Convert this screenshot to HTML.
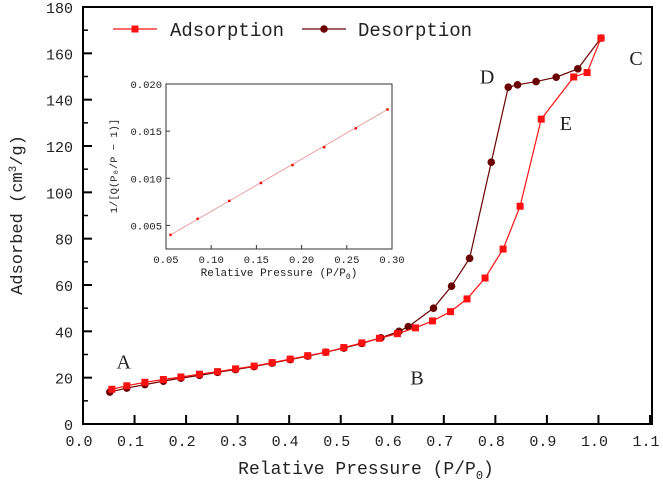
<!DOCTYPE html>
<html><head><meta charset="utf-8"><style>
body{margin:0;background:#fff}
svg text{font-family:"Liberation Mono","Noto Serif CJK SC",monospace;fill:#222}
svg text.serif{font-family:"Liberation Serif",serif}
</style></head><body>
<svg id="c" width="663" height="486" xmlns="http://www.w3.org/2000/svg"></svg>
<script>
const adsX=[0.056,0.085,0.12,0.156,0.19,0.226,0.261,0.296,0.332,0.367,0.402,0.436,0.471,0.506,0.541,0.575,0.61,0.645,0.678,0.713,0.745,0.78,0.815,0.848,0.889,0.952,0.978,1.005];
const adsY=[15,16.5,18,19.2,20.3,21.5,22.6,23.8,25,26.5,28,29.5,31,33,35,37,39,41.5,44.5,48.5,54,63,75.5,94,131.6,149.8,151.7,166.6];
const desX=[0.052,0.085,0.12,0.156,0.19,0.226,0.261,0.296,0.332,0.367,0.402,0.436,0.471,0.506,0.541,0.578,0.613,0.631,0.68,0.715,0.75,0.792,0.825,0.843,0.879,0.918,0.96,1.005];
const desY=[13.8,15.5,17,18.5,19.8,21,22.3,23.5,24.8,26.3,27.8,29.3,31,32.8,34.8,37.2,40,42,50,59.5,71.5,113,145.4,146.4,147.8,149.7,153.3,166.6];
const xTicks=[0,0.1,0.2,0.3,0.4,0.5,0.6,0.7,0.8,0.9,1.0,1.1];
const yTicks=[0,20,40,60,80,100,120,140,160,180];
const insX=[0.055,0.085,0.12,0.155,0.19,0.225,0.26,0.295];
const insY=[0.0040,0.0057,0.0076,0.0095,0.0114,0.0133,0.0153,0.0173];
const insXTicks=[0.05,0.10,0.15,0.20,0.25,0.30];
const insYTicks=[0.005,0.010,0.015,0.020];
const annotations=[["A",0.065,24],["B",0.635,17],["C",1.06,155],["D",0.77,147],["E",0.925,127]];

const S=document.getElementById('c');const NS='http://www.w3.org/2000/svg';
function mk(t,a,name,p){const e=document.createElementNS(NS,t);for(const k in a)e.setAttribute(k,a[k]);


(p||S).appendChild(e);return e;}
const L=83,R=650,T=7,B=424;
const sx=v=>L+v/1.1*(R-L), sy=v=>B-v/180*(B-T);
mk('rect',{x:L,y:T,width:R-L+2,height:B-T,fill:'none',stroke:'#000','stroke-width':2},'plot-frame');
xTicks.forEach(v=>{const x=sx(v);mk('line',{x1:x,x2:x,y1:B,y2:B-9,stroke:'#000','stroke-width':2},'x-tick');
const t=mk('text',{x:x-4,y:B+22,'text-anchor':'middle','font-size':15},'x-tick-label');t.textContent=v.toFixed(1);});
yTicks.forEach((v,i)=>{const y=sy(v);mk('line',{x1:L,x2:L+9,y1:y,y2:y,stroke:'#000','stroke-width':2},'y-tick');
if(i<yTicks.length-1){const ym=sy(v+10);mk('line',{x1:L,x2:L+5,y1:ym,y2:ym,stroke:'#000','stroke-width':1.5},'y-minor-tick');}
const t=mk('text',{x:L-10,y:y+6,'text-anchor':'end','font-size':15},'y-tick-label');t.textContent=v;});
let t=mk('text',{x:366,y:474,'text-anchor':'middle','font-size':18},'x-axis-title');t.innerHTML='Relative Pressure (P/P<tspan font-size="12" dy="5">0</tspan><tspan dy="-5">)</tspan>';
t=mk('text',{x:0,y:0,'text-anchor':'middle','font-size':17,transform:'translate(22,215) rotate(-90)'},'y-axis-title');t.innerHTML='Adsorbed (cm<tspan font-size="11" dy="-6">3</tspan><tspan dy="6">/g)</tspan>';
function series(xs,ys,col,sq,name){const g=mk('g',{},name+'-series');
mk('polyline',{points:xs.map((x,i)=>sx(x)+','+sy(ys[i])).join(' '),fill:'none',stroke:col,'stroke-width':1.2},name+'-line',g);
xs.forEach((x,i)=>{if(sq)mk('rect',{x:sx(x)-3.5,y:sy(ys[i])-3.5,width:7,height:7,fill:col},name+'-point',g);
else mk('circle',{cx:sx(x),cy:sy(ys[i]),r:3.8,fill:col},name+'-point',g);});}
series(desX,desY,'#6b0000',false,'desorption');
series(adsX,adsY,'#ff1010',true,'adsorption');
annotations.forEach(a=>{const e=mk('text',{x:sx(a[1]),y:sy(a[2]),'font-size':20,'class':'serif'},'point-label-'+a[0].toLowerCase());e.textContent=a[0];});
// legend
mk('line',{x1:113,x2:157,y1:29,y2:29,stroke:'#ff1010','stroke-width':1.2},'legend-adsorption-line');
mk('rect',{x:131.5,y:25.5,width:7,height:7,fill:'#ff1010'},'legend-adsorption-marker');
t=mk('text',{x:170,y:36,'font-size':19},'legend-adsorption-label');t.textContent='Adsorption';
mk('line',{x1:302,x2:346,y1:29,y2:29,stroke:'#6b0000','stroke-width':1.2},'legend-desorption-line');
mk('circle',{cx:324,cy:29,r:3.8,fill:'#6b0000'},'legend-desorption-marker');
t=mk('text',{x:358,y:36,'font-size':19},'legend-desorption-label');t.textContent='Desorption';
// inset
const iL=166,iR=392,iT=84,iB=249;
const ix=v=>iL+(v-0.05)/0.25*(iR-iL), iy=v=>iB-(v-0.0025)/0.0175*(iB-iT);
const ig=mk('g',{},'inset-chart');
mk('rect',{x:iL,y:iT,width:iR-iL,height:iB-iT,fill:'#fff',stroke:'#333','stroke-width':1},'inset-frame',ig);
insXTicks.forEach(v=>{const x=ix(v);mk('line',{x1:x,x2:x,y1:iB,y2:iB-4,stroke:'#333'},'inset-x-tick',ig);
const e=mk('text',{x:x,y:iB+14,'text-anchor':'middle','font-size':10.5},'inset-x-tick-label',ig);e.textContent=v.toFixed(2);});
insYTicks.forEach(v=>{const y=iy(v);mk('line',{x1:iL,x2:iL+4,y1:y,y2:y,stroke:'#333'},'inset-y-tick',ig);
const e=mk('text',{x:iL-4,y:y+4,'text-anchor':'end','font-size':10.5},'inset-y-tick-label',ig);e.textContent=v.toFixed(3);});
mk('line',{x1:ix(insX[0]),y1:iy(insY[0]),x2:ix(insX[insX.length-1]),y2:iy(insY[insY.length-1]),stroke:'#e89090','stroke-width':0.8},'inset-fit-line',ig);
insX.forEach((x,i)=>mk('rect',{x:ix(x)-1.2,y:iy(insY[i])-1.2,width:2.4,height:2.4,fill:'#e00'},'inset-point',ig));
t=mk('text',{x:279,y:276,'text-anchor':'middle','font-size':11},'inset-x-title',ig);t.innerHTML='Relative Pressure (P/P<tspan font-size="8" dy="3">0</tspan><tspan dy="-3">)</tspan>';
t=mk('text',{x:0,y:0,'text-anchor':'middle','font-size':10.5,transform:'translate(117,166) rotate(-90)'},'inset-y-title',ig);t.textContent='1/[Q(P₀/P − 1)]';
</script>
</body></html>
